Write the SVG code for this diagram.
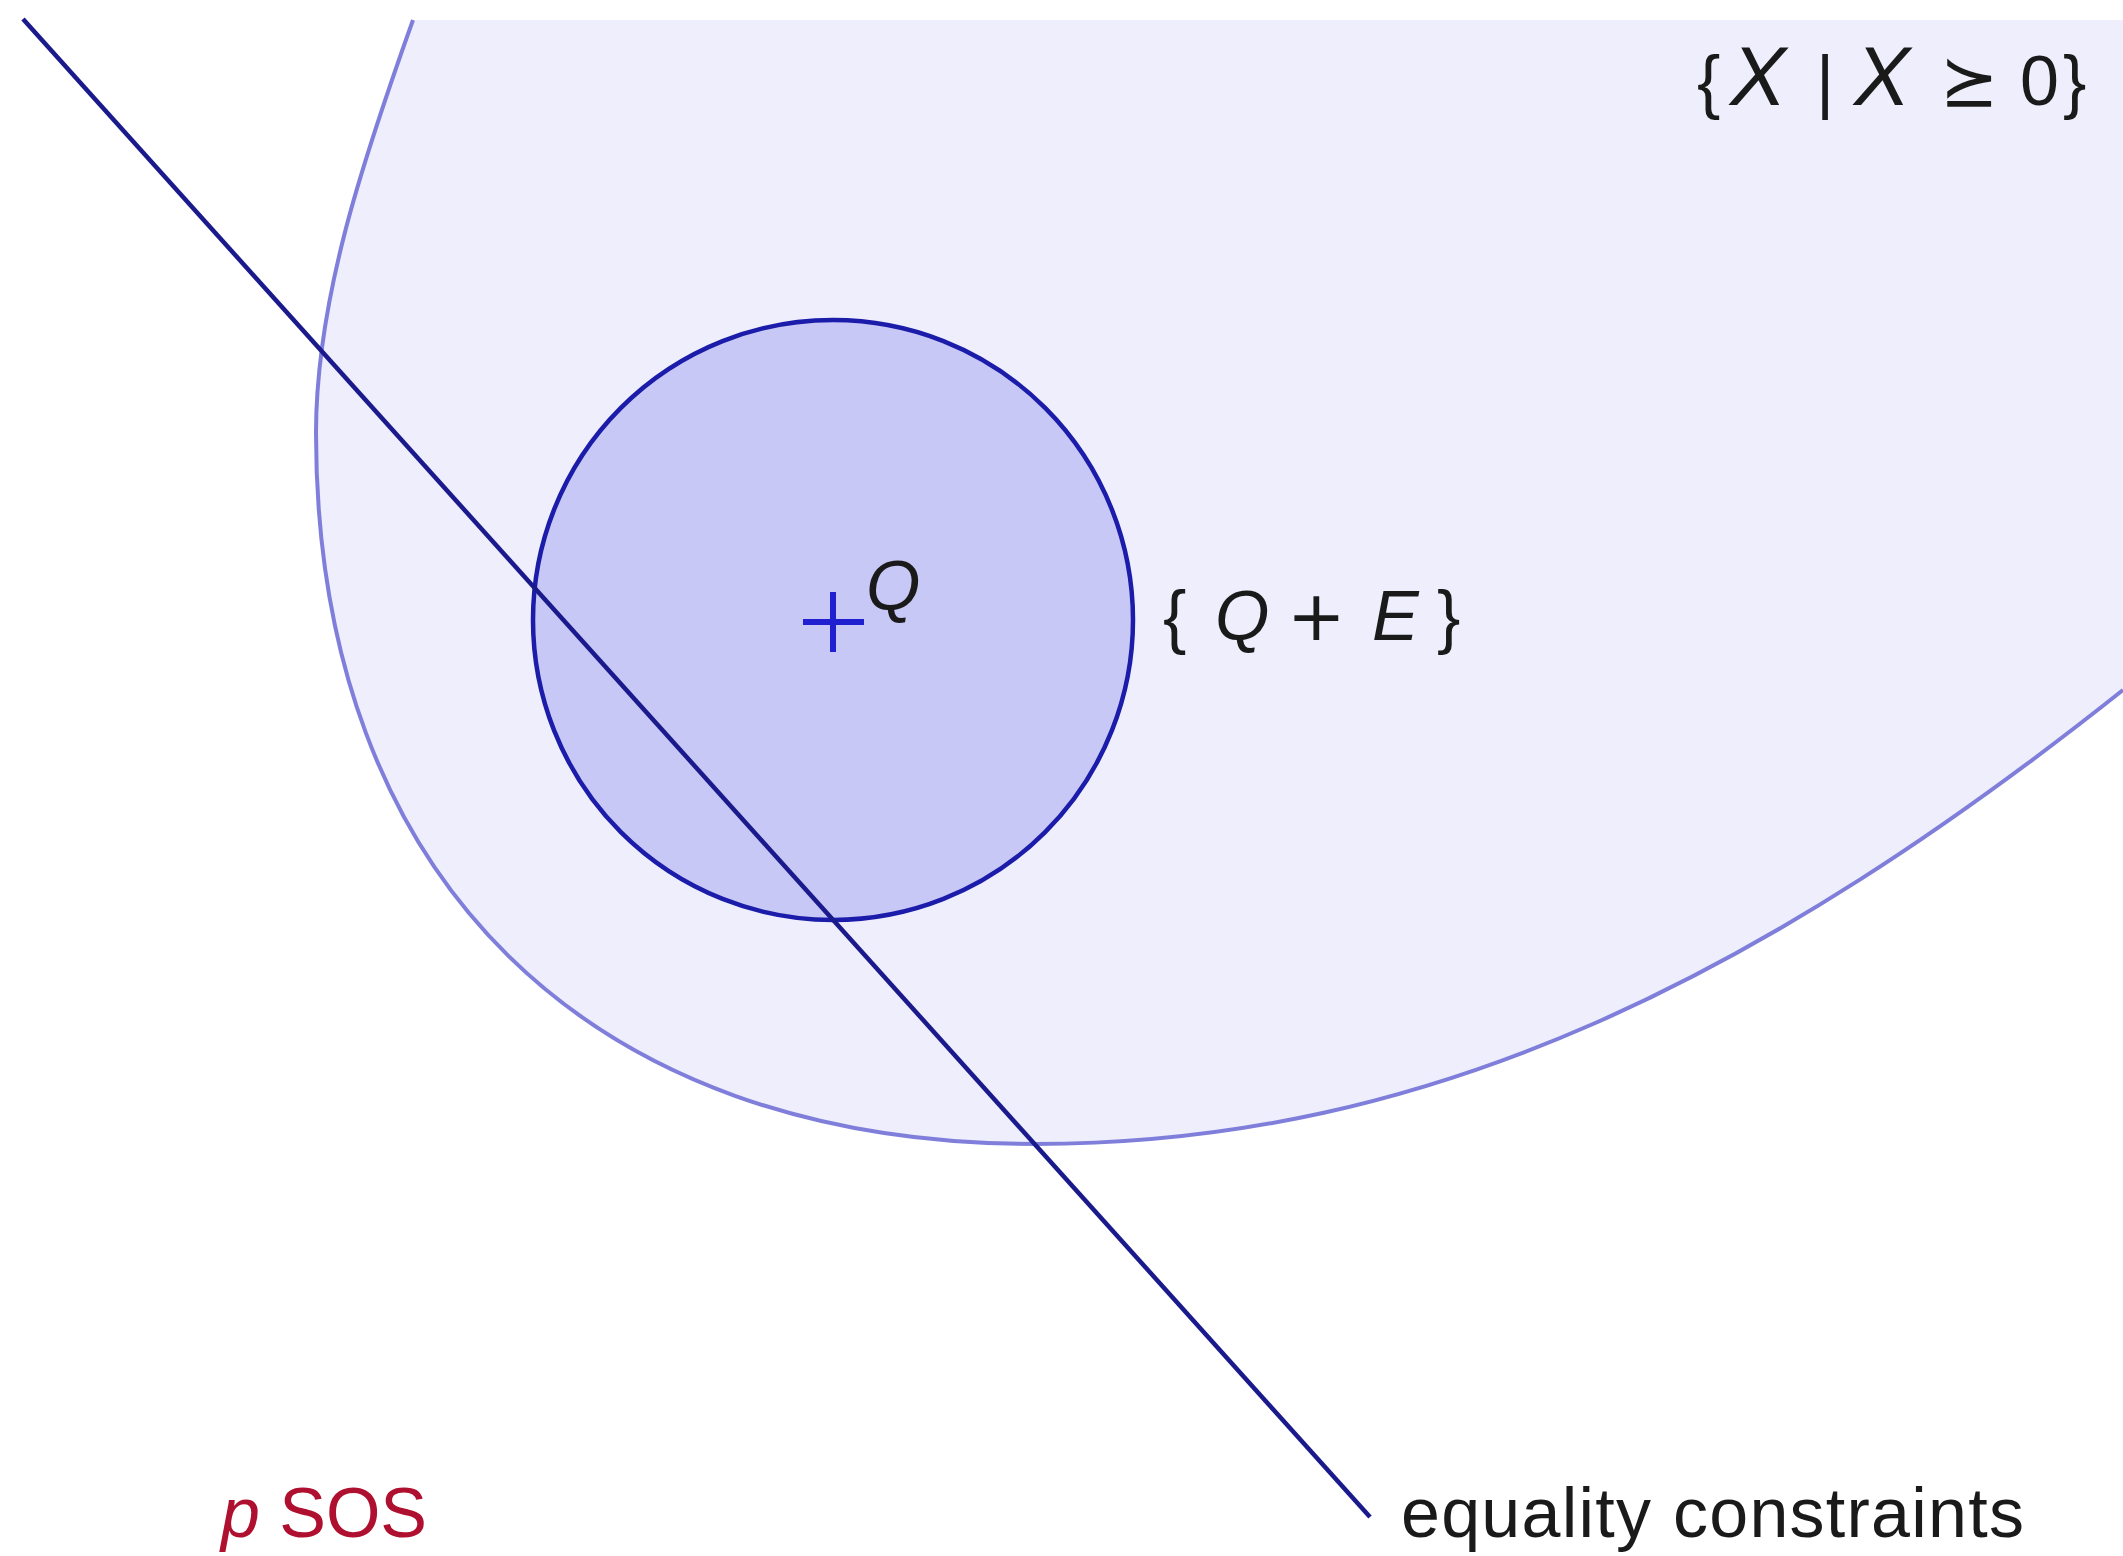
<svg xmlns="http://www.w3.org/2000/svg" width="2123" height="1556" viewBox="0 0 2123 1556">
<style>
  .lbl { font-family: "Liberation Sans", "DejaVu Sans", sans-serif; font-size: 70px; fill: #1a1a1a; }
  .it { font-style: italic; }
  .sym { font-family: "DejaVu Sans", sans-serif; font-style: normal; }
</style>
<rect width="2123" height="1556" fill="#ffffff"/>
<g id="psd-cone">
  <path d="M413,20 C363,160 316,300 316,433 C316,880 590,1144 1035,1144 C1435,1144 1768,972 2123,690 L2123,20 Z" fill="#eeeefc" stroke="none"/>
  <path d="M413,20 C363,160 316,300 316,433 C316,880 590,1144 1035,1144 C1435,1144 1768,972 2123,690" fill="none" stroke="#7f7fdb" stroke-width="4"/>
</g>
<g id="ellipsoid">
  <circle cx="833" cy="620" r="300" fill="#c8c8f6" stroke="#1c1caa" stroke-width="4.5"/>
</g>
<g id="connectors">
  <line id="equality-line" x1="23" y1="19" x2="1370" y2="1517" stroke="#1a1a8c" stroke-width="4.5"/>
</g>
<g id="center-Q">
  <line x1="803" y1="622" x2="864" y2="622" stroke="#2020d0" stroke-width="6"/>
  <line x1="833" y1="592" x2="833" y2="652" stroke="#2020d0" stroke-width="6"/>
  <text class="lbl it" x="866" y="610" font-size="68">Q</text>
</g>
<g id="labels">
  <text id="psd-label" class="lbl" y="105" font-size="78"><tspan x="1697">{</tspan><tspan class="it" x="1730" font-size="84">X</tspan><tspan x="1816">|</tspan><tspan class="it" x="1854" font-size="84">X</tspan><tspan class="sym" x="1940">⪰</tspan><tspan x="2020">0</tspan><tspan x="2063">}</tspan></text>
  <text id="ellipsoid-label" class="lbl" y="640" font-size="74"><tspan x="1163">{</tspan><tspan class="it" x="1215">Q</tspan><tspan class="sym" x="1287">+</tspan><tspan class="it" x="1372">E</tspan><tspan x="1437">}</tspan></text>
  <text id="sos-label" class="lbl" x="221" y="1537" style="fill:#b01030" textLength="206" lengthAdjust="spacing"><tspan class="it">p</tspan> SOS</text>
  <text id="eq-label" class="lbl" x="1401" y="1537" font-size="68" textLength="623">equality constraints</text>
</g>
</svg>
